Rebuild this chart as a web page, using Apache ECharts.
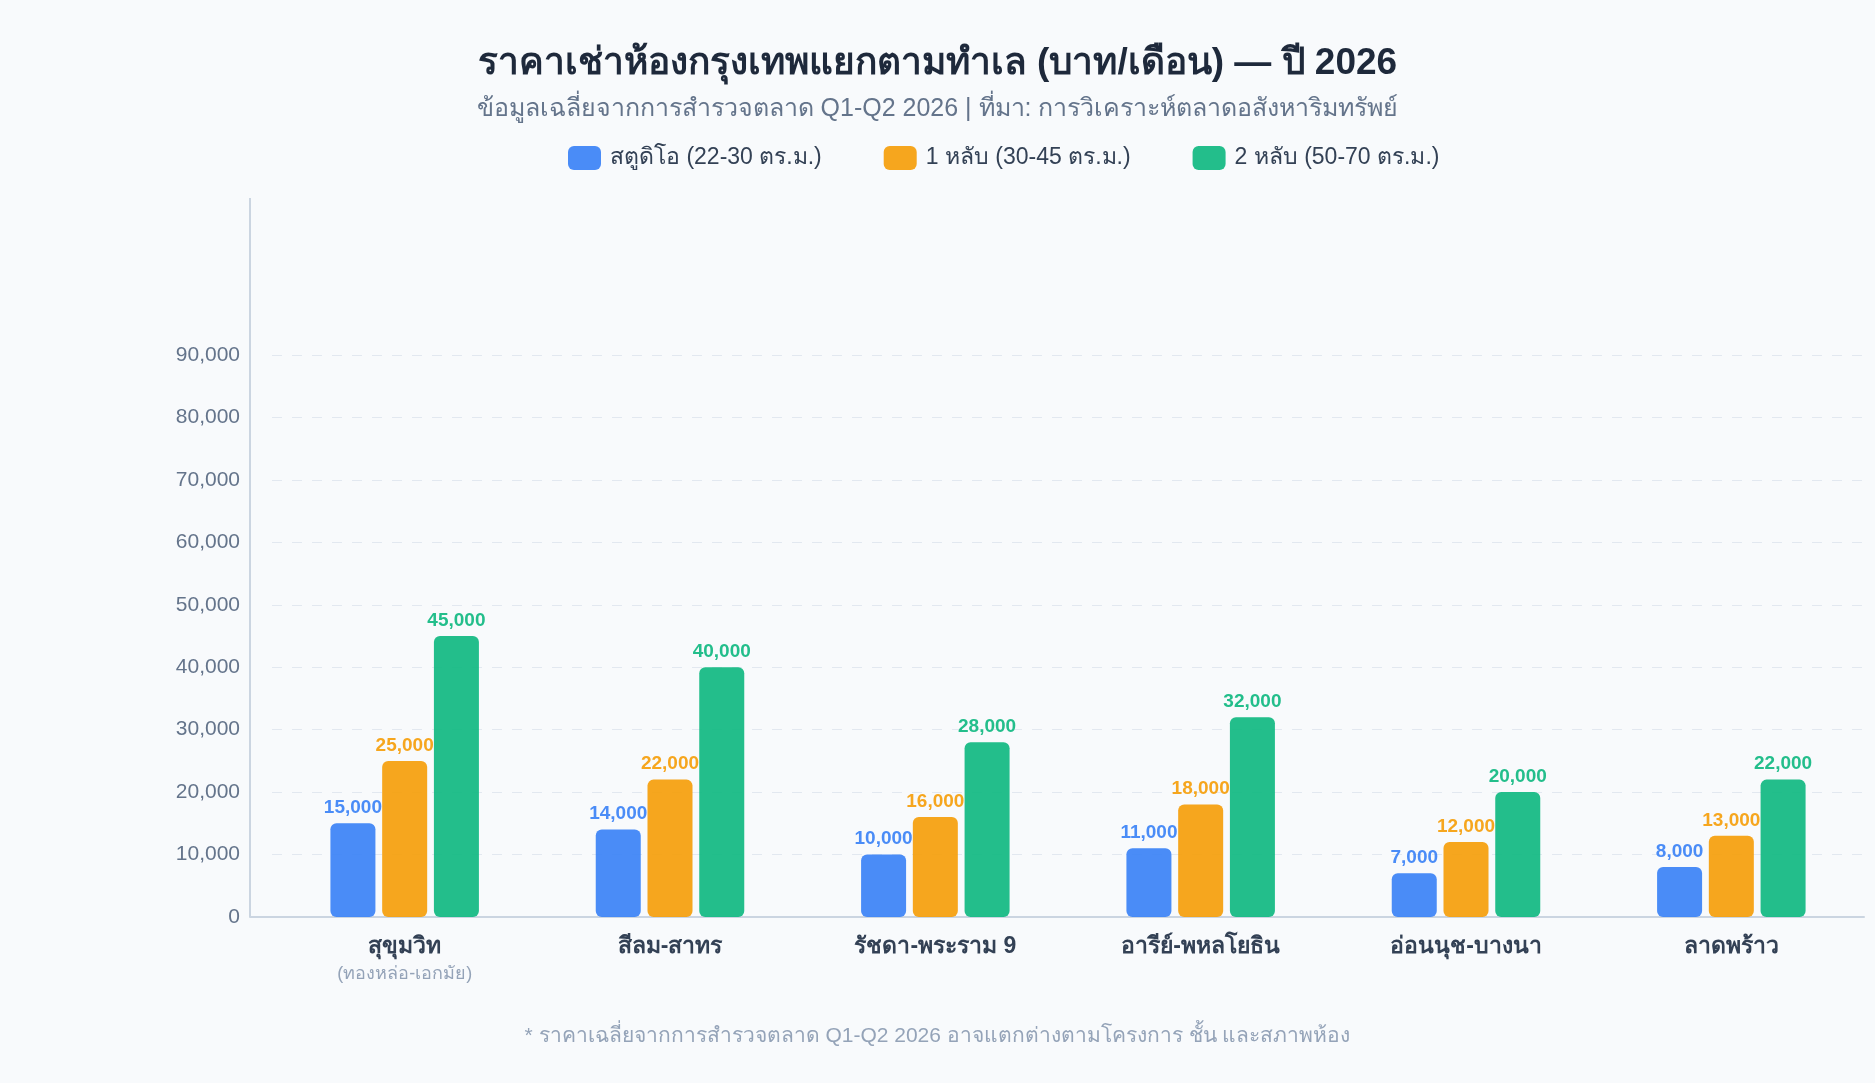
<!DOCTYPE html>
<html>
<head>
<meta charset="utf-8">
<title>ราคาเช่าห้องกรุงเทพ</title>
<script src="https://cdn.jsdelivr.net/npm/echarts@6/dist/echarts.min.js"></script>
<style>
  html, body { margin: 0; padding: 0; background: #f8fafc; }
  #main { width: 1875px; height: 1083px; }
</style>
</head>
<body>
<div id="main"></div>
<script>
// ทำเล (แกน X)
var areas = ['สุขุมวิท', 'สีลม-สาทร', 'รัชดา-พระราม 9', 'อารีย์-พหลโยธิน', 'อ่อนนุช-บางนา', 'ลาดพร้าว'];
var areaNotes = ['(ทองหล่อ-เอกมัย)', '', '', '', '', ''];
// ค่าเช่าเฉลี่ย บาท/เดือน
var studio = [15000, 14000, 10000, 11000, 7000, 8000];
var oneBed = [25000, 22000, 16000, 18000, 12000, 13000];
var twoBed = [45000, 40000, 28000, 32000, 20000, 22000];
var seriesNames = ['สตูดิโอ (22-30 ตร.ม.)', '1 หลับ (30-45 ตร.ม.)', '2 หลับ (50-70 ตร.ม.)'];
var colors = ['#3b82f6', '#f59e0b', '#10b981'];

var font = 'Liberation Sans, Arial, sans-serif';
var myChart = echarts.init(document.getElementById('main'));

function fmt(v) {
  return v.toLocaleString('en-US');
}

function barSeries(idx, data) {
  return {
    name: seriesNames[idx],
    type: 'bar',
    data: data,
    barWidth: 45,
    barGap: '15%',
    itemStyle: { color: colors[idx], opacity: 0.92, borderRadius: 6 },
    label: {
      show: true,
      position: 'top',
      distance: 6,
      color: colors[idx],
      fontFamily: font,
      fontWeight: 'bold',
      fontSize: 19,
      formatter: function (p) { return fmt(p.value); }
    }
  };
}

var option = {
  backgroundColor: '#f8fafc',
  animation: false,
  color: colors,
  title: [
    {
      text: 'ราคาเช่าห้องกรุงเทพแยกตามทำเล (บาท/เดือน) — ปี 2026',
      left: 'center',
      top: 40,
      textStyle: { fontFamily: font, fontSize: 37, fontWeight: 'bold', color: '#1e293b' }
    },
    {
      text: 'ข้อมูลเฉลี่ยจากการสำรวจตลาด Q1-Q2 2026 | ที่มา: การวิเคราะห์ตลาดอสังหาริมทรัพย์',
      left: 'center',
      top: 92,
      textStyle: { fontFamily: font, fontSize: 25, fontWeight: 'normal', color: '#64748b' }
    },
    {
      text: '* ราคาเฉลี่ยจากการสำรวจตลาด Q1-Q2 2026 อาจแตกต่างตามโครงการ ชั้น และสภาพห้อง',
      left: 'center',
      top: 1021,
      textStyle: { fontFamily: font, fontSize: 21, fontWeight: 'normal', color: '#94a3b8' }
    }
  ],
  legend: {
    data: seriesNames,
    left: 563,
    top: 141,
    icon: 'roundRect',
    itemWidth: 33,
    itemHeight: 24,
    itemGap: 62,
    textStyle: { fontFamily: font, fontSize: 23, color: '#334155', padding: [0, 0, 0, 4] }
  },
  grid: { left: 272, right: 11, top: 355, bottom: 166 },
  xAxis: {
    type: 'category',
    data: areas,
    axisLine: { lineStyle: { color: '#cbd5e1', width: 2 } },
    axisTick: { show: false },
    axisLabel: {
      margin: 15,
      formatter: function (v, i) {
        var s = '{a|' + v + '}';
        if (areaNotes[i]) s += '\n{b|' + areaNotes[i] + '}';
        return s;
      },
      rich: {
        a: { fontFamily: font, fontSize: 23, fontWeight: 'bold', color: '#334155', lineHeight: 30 },
        b: { fontFamily: font, fontSize: 18, color: '#94a3b8', lineHeight: 24 }
      }
    }
  },
  yAxis: {
    type: 'value',
    min: 0,
    max: 90000,
    interval: 10000,
    offset: 22,
    axisLine: { show: true, lineStyle: { color: '#cbd5e1', width: 2 } },
    axisTick: { show: false },
    axisLabel: {
      margin: 10,
      fontFamily: font,
      fontSize: 21,
      color: '#64748b',
      formatter: function (v) { return fmt(v); }
    },
    splitLine: { lineStyle: { color: '#e2e8f0', type: [10, 10] } }
  },
  graphic: [
    {
      // axis line continues above the top tick
      type: 'line',
      shape: { x1: 250, y1: 198, x2: 250, y2: 355 },
      style: { stroke: '#cbd5e1', lineWidth: 2 }
    },
    {
      // join the offset y axis with the x axis
      type: 'line',
      shape: { x1: 250, y1: 917, x2: 273, y2: 917 },
      style: { stroke: '#cbd5e1', lineWidth: 2 }
    }
  ],
  series: [
    barSeries(0, studio),
    barSeries(1, oneBed),
    barSeries(2, twoBed)
  ]
};

myChart.setOption(option);
</script>
</body>
</html>
